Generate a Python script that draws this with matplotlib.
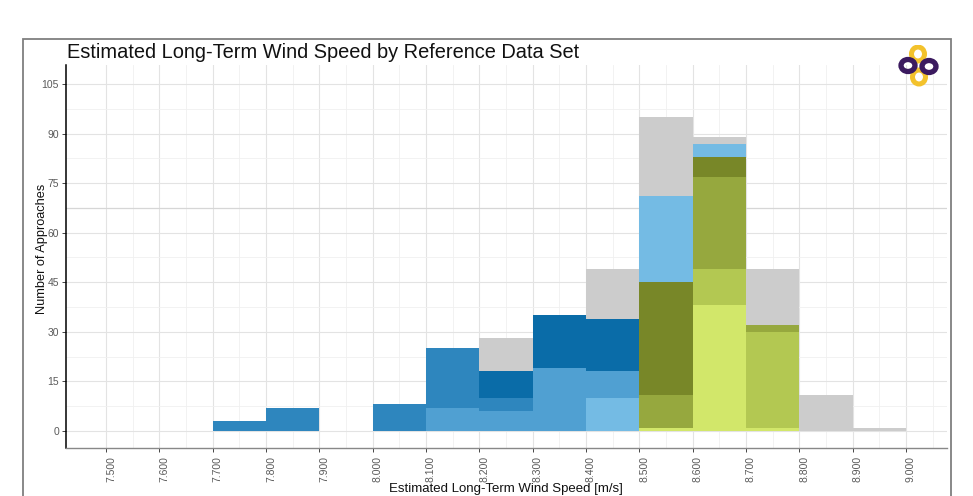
import matplotlib
matplotlib.use('Agg')
import matplotlib.pyplot as plt
from matplotlib.patches import Rectangle, Ellipse

# ---------------- data ----------------
bin_left = [7.7, 7.8, 7.9, 8.0, 8.1, 8.2, 8.3, 8.4, 8.5, 8.6, 8.7, 8.8, 8.9]
bin_width = 0.1

# counts per bin for each reference data set (drawn back to front, overlapping)
set_a = [0, 0, 0, 0, 0, 28, 0, 49, 95, 89, 49, 11, 1]
set_b = [0, 0, 0, 0, 0, 18, 35, 34, 0, 0, 0, 0, 0]
set_c = [3, 7, 0, 8, 25, 10, 0, 0, 0, 0, 0, 0, 0]
set_d = [0, 0, 0, 0, 7, 6, 19, 18, 0, 0, 0, 0, 0]
set_e = [0, 0, 0, 0, 0, 0, 0, 10, 71, 87, 0, 0, 0]
set_f = [0, 0, 0, 0, 0, 0, 0, 0, 45, 83, 0, 0, 0]
set_g = [0, 0, 0, 0, 0, 0, 0, 0, 11, 77, 32, 0, 0]
set_h = [0, 0, 0, 0, 0, 0, 0, 0, 0, 49, 30, 0, 0]
set_i = [0, 0, 0, 0, 0, 0, 0, 0, 1, 38, 1, 0, 0]

x_ticks = [7.5, 7.6, 7.7, 7.8, 7.9, 8.0, 8.1, 8.2, 8.3, 8.4, 8.5, 8.6, 8.7, 8.8, 8.9, 9.0]
x_tick_labels = ["7.500", "7.600", "7.700", "7.800", "7.900", "8.000", "8.100", "8.200",
                 "8.300", "8.400", "8.500", "8.600", "8.700", "8.800", "8.900", "9.000"]
y_ticks = [0, 15, 30, 45, 60, 75, 90, 105]
y_tick_labels = ["0", "15", "30", "45", "60", "75", "90", "105"]

title = "Estimated Long-Term Wind Speed by Reference Data Set"
x_title = "Estimated Long-Term Wind Speed [m/s]"
y_title = "Number of Approaches"

# ---------------- style ----------------
series = [set_a, set_b, set_c, set_d, set_e, set_f, set_g, set_h, set_i]
colors = ["#CCCCCC", "#0A6CA8", "#2E86BE", "#50A0D2", "#74BBE4",
          "#788728", "#96A83E", "#B3C852", "#D2E76A"]

plt.rcParams['font.family'] = ['Liberation Sans', 'DejaVu Sans']

W, H = 973, 496
fig = plt.figure(figsize=(W / 100, H / 100), dpi=100)

ax_l, ax_r, ax_t, ax_b = 66, 947, 65, 448
ax = fig.add_axes([ax_l / W, 1 - ax_b / H, (ax_r - ax_l) / W, (ax_b - ax_t) / H])

for vals, col in zip(series, colors):
    ax.bar(bin_left, vals, width=bin_width, align='edge', color=col,
           linewidth=0, zorder=3)

ax.set_xticks(x_ticks)
ax.set_xticklabels(x_tick_labels, rotation=90, ha='left', va='top')
minor_x = [(a + b) / 2 for a, b in zip(x_ticks[:-1], x_ticks[1:])] + [x_ticks[-1] + 0.05]
ax.set_xticks(minor_x, minor=True)
ax.set_yticks(y_ticks)
ax.set_yticklabels(y_tick_labels)
minor_y = [t + 7.5 for t in y_ticks[:-1]]
ax.set_yticks(minor_y, minor=True)

ax.set_xlim(7.425, 9.077)
ax.set_ylim(-5.2, 110.8)

ax.grid(which='major', color='#E3E3E3', linewidth=0.8, zorder=0)
ax.grid(which='minor', color='#F0F0F0', linewidth=0.6, zorder=0)
ax.axhline(67.5, color='#D6D6D6', linewidth=0.9, zorder=1)
ax.set_axisbelow(True)

ax.tick_params(axis='both', which='major', length=3, width=0.7, color='#444444',
               labelsize=7.5, labelcolor='#5A5A5A')
ax.tick_params(axis='x', which='major', pad=3)
ax.tick_params(axis='y', which='major', pad=2)
ax.tick_params(which='minor', length=0)

for s in ['top', 'right']:
    ax.spines[s].set_visible(False)
ax.spines['left'].set_color('#000000')
ax.spines['left'].set_linewidth(1.1)
ax.spines['bottom'].set_color('#888888')
ax.spines['bottom'].set_linewidth(1.0)

# titles
fig.text(67 / W, 1 - 57.5 / H, title, fontsize=14.4, ha='left', va='baseline', color='#111111')
fig.text(506 / W, 1 - 492 / H, x_title, fontsize=9.5, ha='center', va='baseline', color='#111111')
fig.text(42 / W, 1 - 249 / H, y_title, fontsize=9.2, ha='center', va='center',
         rotation=90, color='#111111')

# outer frame
fig.add_artist(Rectangle((23 / W, -0.2), (951 - 23) / W, 0.2 + 1 - 39 / H,
                         transform=fig.transFigure, fill=False, edgecolor='#7F7F7F',
                         linewidth=1.3, clip_on=False))

# logo
lx, ly, lw, lh = 898, 45, 42, 43
lax = fig.add_axes([lx / W, 1 - (ly + lh) / H, lw / W, lh / H])
lax.set_xlim(0, lw)
lax.set_ylim(0, lh)
lax.axis('off')
yel, pur = '#F3C22C', '#3B1A5F'
lax.add_patch(Ellipse((20, 34), 13, 14, fill=False, edgecolor=yel, linewidth=3.6))
lax.add_patch(Ellipse((21, 11), 13, 14, fill=False, edgecolor=yel, linewidth=3.6))
lax.add_patch(Ellipse((10, 22.5), 14, 12, fill=False, edgecolor=pur, linewidth=3.8))
lax.add_patch(Ellipse((31, 21.5), 14, 12, fill=False, edgecolor=pur, linewidth=3.8))

fig.savefig('out.png', dpi=100)
